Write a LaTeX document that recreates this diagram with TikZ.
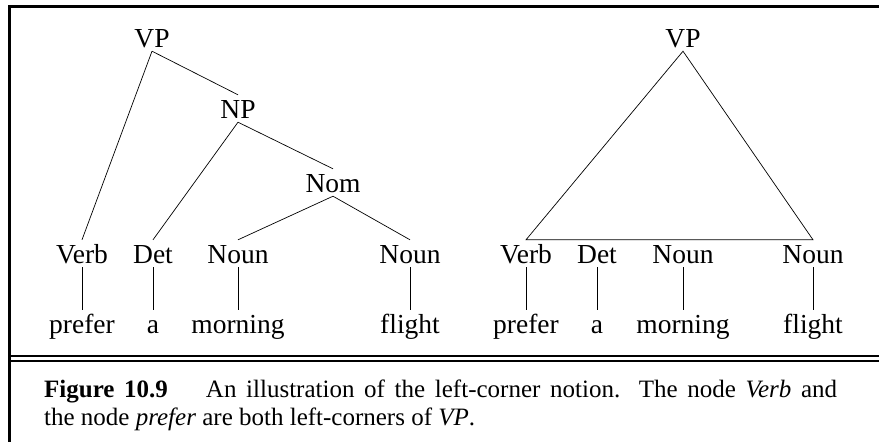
\documentclass[tikz,border=0pt]{standalone}
\usepackage{fontspec}
\setmainfont{Liberation Serif}
\begin{document}
\begin{tikzpicture}[x=1pt,y=-1pt,
  lab/.style={font=\fontsize{27.5}{30}\selectfont, anchor=base, inner xsep=0pt, inner ysep=4pt, text height=19pt, text depth=0pt},
  edge/.style={line width=0.7pt},
  frame/.style={line width=3pt},
  dbl/.style={line width=2pt},
  captext/.style={anchor=base west, inner sep=0pt, text width=793pt, align=justify, font=\fontsize{25}{28}\selectfont}]
\useasboundingbox (0,0) rectangle (879,442);
% frame
\draw[frame] (8,6.5) -- (879,6.5);
\draw[frame] (9.5,5) -- (9.5,442);
\draw[dbl] (9,356) -- (879,356);
\draw[dbl] (9,360.5) -- (879,360.5);
% left tree
\node[lab] (vpL) at (152,47) {VP};
\node[lab] (npL) at (238,118) {NP};
\node[lab] (nomL) at (333,192) {Nom};
\node[lab] (verbL) at (82,263) {Verb};
\node[lab] (detL) at (153,263) {Det};
\node[lab] (nounAL) at (238,263) {Noun};
\node[lab] (nounBL) at (410,263) {Noun};
\node[lab] (preferL) at (82,333) {prefer};
\node[lab] (aL) at (153,333) {a};
\node[lab] (morningL) at (238,333) {morning};
\node[lab] (flightL) at (410,333) {flight};
\draw[edge] (vpL.south) -- (verbL.north);
\draw[edge] (vpL.south) -- (npL.north);
\draw[edge] (npL.south) -- (detL.north);
\draw[edge] (npL.south) -- (nomL.north);
\draw[edge] (nomL.south) -- (nounAL.north);
\draw[edge] (nomL.south) -- (nounBL.north);
\draw[edge] (verbL.south) -- (preferL.north);
\draw[edge] (detL.south) -- (aL.north);
\draw[edge] (nounAL.south) -- (morningL.north);
\draw[edge] (nounBL.south) -- (flightL.north);
% right tree
\node[lab] (vpR) at (683,47) {VP};
\node[lab] (verbR) at (526,263) {Verb};
\node[lab] (detR) at (597,263) {Det};
\node[lab] (nounAR) at (683,263) {Noun};
\node[lab] (nounBR) at (813,263) {Noun};
\node[lab] (preferR) at (526,333) {prefer};
\node[lab] (aR) at (597,333) {a};
\node[lab] (morningR) at (683,333) {morning};
\node[lab] (flightR) at (813,333) {flight};
\draw[edge, line join=miter] (vpR.south) -- (nounBR.north) -- (verbR.north) -- cycle;
\draw[edge] (verbR.south) -- (preferR.north);
\draw[edge] (detR.south) -- (aR.north);
\draw[edge] (nounAR.south) -- (morningR.north);
\draw[edge] (nounBR.south) -- (flightR.north);
% caption
\node[captext] (caption) at (44,397) {\textbf{Figure 10.9}\hspace{38pt}An illustration of the left-corner notion.  The node \textit{Verb} and\linebreak the node \textit{prefer} are both left-corners of \textit{VP}.};
\end{tikzpicture}
\end{document}
